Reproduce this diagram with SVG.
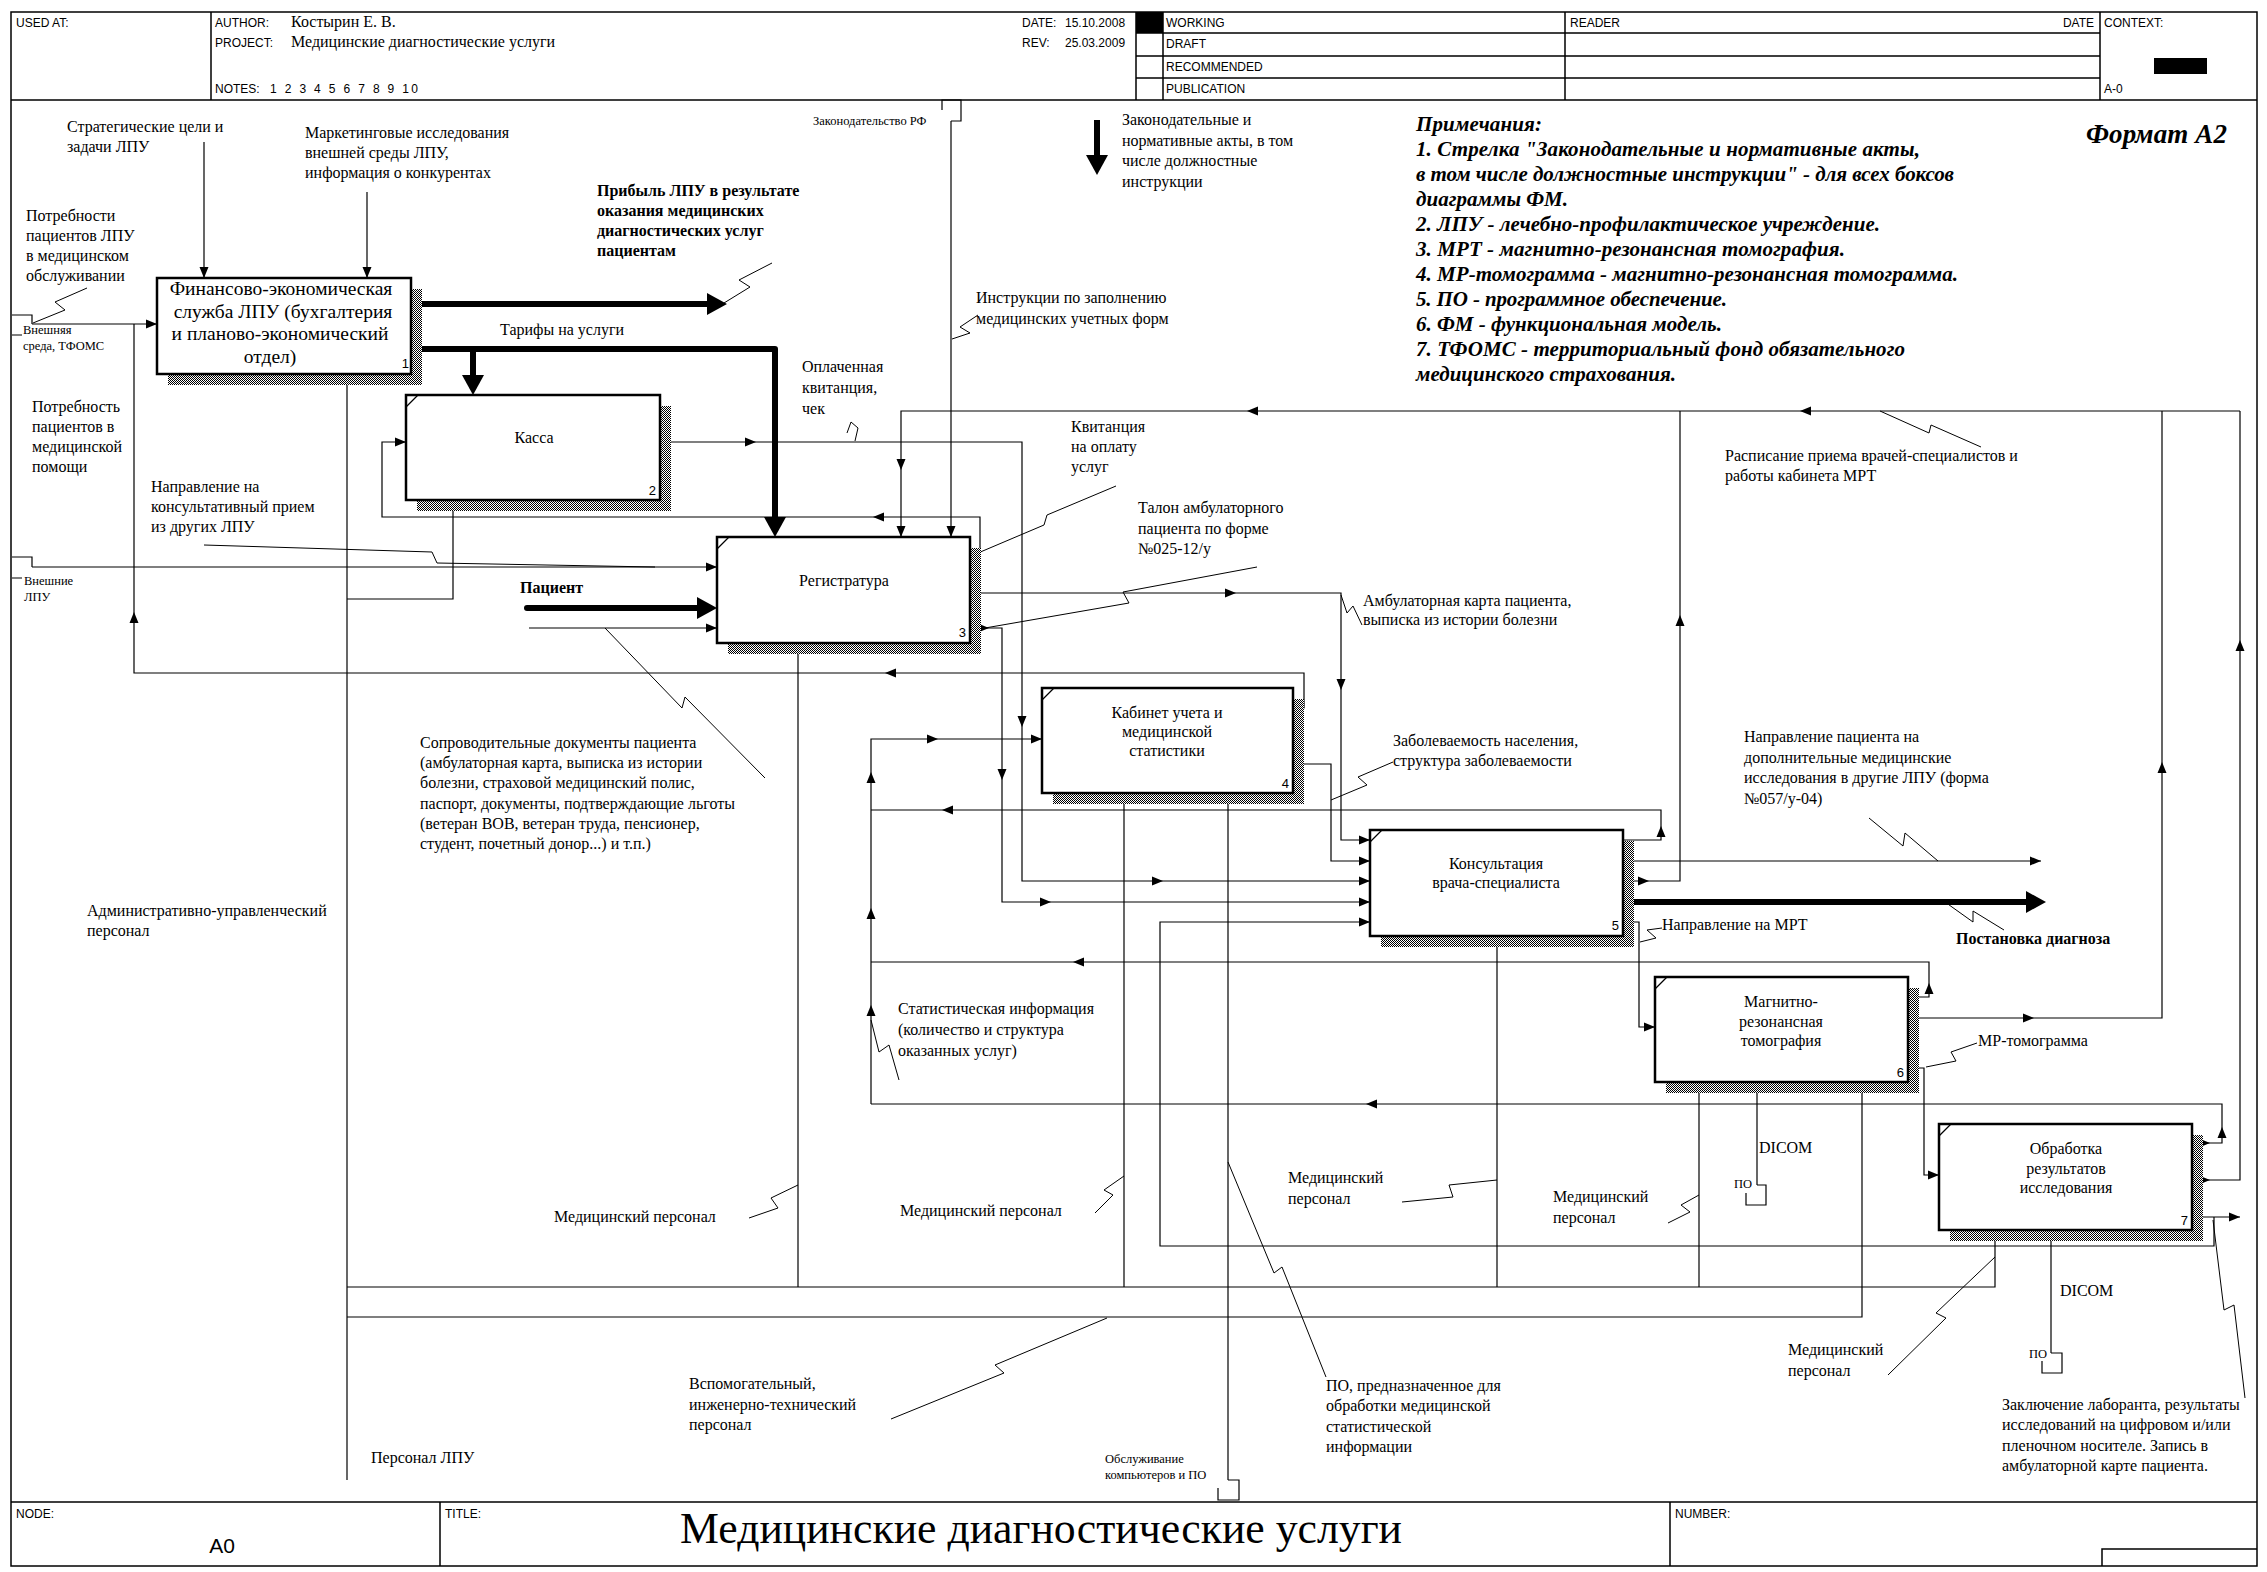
<svg xmlns="http://www.w3.org/2000/svg" width="2267" height="1572" viewBox="0 0 2267 1572">
<defs>
<style>
text{font-family:"Liberation Serif","Times New Roman",serif;font-size:16px;fill:#000}
.sm{font-size:12.5px}
.b{font-weight:bold}
.hd{font-family:"Liberation Sans",Arial,sans-serif;font-size:12px}
.hv{font-family:"Liberation Serif","Times New Roman",serif;font-size:16px}
.note{font-size:21px;font-weight:bold;font-style:italic}
.bt{text-anchor:middle}
.bx{fill:#fff;stroke:#000;stroke-width:2.5}
.sh{fill:url(#hatch);stroke:none}
.num{font-family:"Liberation Sans",Arial,sans-serif;font-size:13px;text-anchor:end}
.c{fill:none;stroke:#000;stroke-width:1.2;marker-end:url(#a)}
.n{fill:none;stroke:#000;stroke-width:1.2}
.m{fill:none;stroke:none;marker-end:url(#a)}
.th{fill:none;stroke:#000;stroke-width:6;marker-end:url(#t)}
.sq{fill:none;stroke:#000;stroke-width:1}
.fr{fill:none;stroke:#000;stroke-width:1.5}
</style>
<pattern id="hatch" width="2" height="2" patternUnits="userSpaceOnUse"><rect width="2" height="2" fill="#fff"/><rect width="1" height="1" fill="#000"/><rect x="1" y="1" width="1" height="1" fill="#000"/></pattern>
<marker id="a" markerUnits="userSpaceOnUse" markerWidth="11" markerHeight="9" viewBox="0 0 11 9" refX="11" refY="4.5" orient="auto" overflow="visible"><path d="M0,0 L11,4.5 L0,9 z" fill="#000"/></marker>
<marker id="t" markerUnits="userSpaceOnUse" markerWidth="20" markerHeight="22" viewBox="0 0 20 22" refX="0" refY="11" orient="auto" overflow="visible"><path d="M0,0 L20,11 L0,22 z" fill="#000"/></marker>
</defs>
<rect width="2267" height="1572" fill="#fff"/>

<g id="frame">
<rect class="fr" x="11" y="12" width="2246" height="1554"/>
<path class="fr" d="M11,100 H2257 M211,12 V100 M1136,12 V100 M1163,12 V100 M1565,12 V100 M2100,12 V100 M1136,33 H2100 M1136,56 H2100 M1136,78 H2100"/>
<rect x="1136" y="12" width="27" height="21" fill="#000"/>
<rect x="2154" y="58" width="53" height="16" fill="#000"/>
<path class="fr" d="M11,1502 H2257 M440,1502 V1566 M1670,1502 V1566 M2102,1566 V1549 H2257"/>
<text class="hd" x="16" y="27">USED AT:</text>
<text class="hd" x="215" y="27">AUTHOR:</text>
<text class="hv" x="291" y="27">Костырин Е. В.</text>
<text class="hd" x="215" y="47">PROJECT:</text>
<text class="hv" x="291" y="47">Медицинские диагностические услуги</text>
<text class="hd" x="215" y="93">NOTES:</text>
<text class="hd" x="270" y="93" textLength="148">1 2 3 4 5 6 7 8 9 10</text>
<text class="hd" x="1022" y="27">DATE:</text>
<text class="hd" x="1065" y="27">15.10.2008</text>
<text class="hd" x="1022" y="47">REV:</text>
<text class="hd" x="1065" y="47">25.03.2009</text>
<text class="hd" x="1166" y="27">WORKING</text>
<text class="hd" x="1166" y="48">DRAFT</text>
<text class="hd" x="1166" y="71">RECOMMENDED</text>
<text class="hd" x="1166" y="93">PUBLICATION</text>
<text class="hd" x="1570" y="27">READER</text>
<text class="hd" x="2094" y="27" text-anchor="end">DATE</text>
<text class="hd" x="2104" y="27">CONTEXT:</text>
<text class="hd" x="2104" y="93">A-0</text>
<text class="hd" x="16" y="1518">NODE:</text>
<text class="hd" x="222" y="1553" style="font-size:21px" text-anchor="middle">A0</text>
<text class="hd" x="445" y="1518">TITLE:</text>
<text x="680" y="1543" style="font-size:45px" textLength="722" lengthAdjust="spacingAndGlyphs">Медицинские диагностические услуги</text>
<text class="hd" x="1675" y="1518">NUMBER:</text>
</g>

<g id="notes">
<text class="note" x="1416" y="131" textLength="126">Примечания:</text>
<text class="note" x="1416" y="156" textLength="504">1. Стрелка "Законодательные и нормативные акты,</text>
<text class="note" x="1416" y="181" textLength="538">в том числе должностные инструкции" - для всех боксов</text>
<text class="note" x="1416" y="206" textLength="152">диаграммы ФМ.</text>
<text class="note" x="1416" y="231" textLength="464">2. ЛПУ - лечебно-профилактическое учреждение.</text>
<text class="note" x="1416" y="256" textLength="429">3. МРТ - магнитно-резонансная томография.</text>
<text class="note" x="1416" y="281" textLength="542">4. МР-томограмма - магнитно-резонансная томограмма.</text>
<text class="note" x="1416" y="306" textLength="311">5. ПО - программное обеспечение.</text>
<text class="note" x="1416" y="331" textLength="306">6. ФМ - функциональная модель.</text>
<text class="note" x="1416" y="356" textLength="489">7. ТФОМС - территориальный фонд обязательного</text>
<text class="note" x="1416" y="381" textLength="260">медицинского страхования.</text>
<text x="2086" y="143" style="font-size:27px;font-weight:bold;font-style:italic" textLength="141">Формат А2</text>
</g>

<g id="connectors">
<!-- tunnels -->
<path class="n" d="M12,315 H32 V324 M12,335 H22"/>
<path class="n" d="M12,557 H32 V567 M12,578 H22"/>
<path class="n" d="M942,110 V100 H961 V121 H951"/>
<path class="n" d="M1228,1480 H1239 V1500 H1218 V1488"/>
<path class="n" d="M1757,1185 H1766 V1205 H1746 V1193"/>
<path class="n" d="M2051,1353 H2062 V1373 H2042 V1361"/>
<!-- box1 inputs/controls -->
<path class="c" d="M204,142 V278"/>
<path class="c" d="M367,192 V278"/>
<path class="c" d="M32,324 H157"/>
<path class="n" d="M1293,708 H1304 V673 H134 V324"/>
<!-- box1 outputs -->
<path class="th" d="M411,304 H707"/>
<path class="th" stroke-linejoin="round" d="M411,349 H775 V517"/>
<path class="th" d="M473,349 V375"/>
<!-- box2 -->
<path class="c" d="M970,553 H980 V517 H382 V442 H406"/>
<path class="c" d="M660,442 H1022 V881 H1370"/>
<!-- box3 inputs -->
<path class="c" d="M32,567 H717"/>
<path class="th" stroke-linecap="round" d="M527,608 H697"/>
<path class="c" d="M529,628 H717"/>
<path class="c" d="M951,121 V537"/>
<path class="n" d="M1623,881 H1680 V411"/>
<path class="n" d="M1908,1018 H2162 V411"/>
<path class="n" d="M2192,1180 H2240 V411"/>
<path class="c" d="M2240,411 H901 V537"/>
<!-- box3 outputs -->
<path class="c" d="M970,593 H1341 V840 H1370"/>
<path class="c" d="M970,628 H1002 V902 H1370"/>
<!-- box4 input -->
<path class="c" d="M871,1104 V739 H1042"/>
<path class="n" d="M1623,840 H1661 V810 H871"/>
<path class="n" d="M1908,997 H1929 V962 H871"/>
<path class="n" d="M2192,1143 H2222 V1104 H871"/>
<!-- box4 output -->
<path class="c" d="M1293,764 H1331 V861 H1370"/>
<!-- box5 outputs -->
<path class="c" d="M1623,861 H2041"/>
<path class="th" d="M1623,902 H2026"/>
<path class="c" d="M1623,922 H1639 V1027 H1655"/>
<!-- box6 output -->
<path class="c" d="M1908,1068 H1924 V1175 H1939"/>
<!-- box7 outputs -->
<path class="c" d="M2192,1217 H2240"/>
<path class="c" d="M2214,1217 V1246 H1160 V922 H1370"/>
<!-- mechanisms -->
<path class="c" d="M347,1480 V374"/>
<path class="c" d="M347,599 H453 V500"/>
<path class="c" d="M347,1287 H1995 V1230"/>
<path class="c" d="M798,1287 V643"/>
<path class="c" d="M1124,1287 V793"/>
<path class="c" d="M1497,1287 V936"/>
<path class="c" d="M1699,1287 V1082"/>
<path class="c" d="M347,1317 H1862 V1082"/>
<path class="c" d="M1228,1480 V793"/>
<path class="c" d="M1757,1185 V1082"/>
<path class="c" d="M2051,1353 V1230"/>
<!-- legend -->
<path class="th" d="M1097,120 V155"/>
<!-- mid arrowheads: right -->
<path class="m" d="M745,442 H756"/>
<path class="m" d="M1152,881 H1163"/>
<path class="m" d="M1225,593 H1236"/>
<path class="m" d="M978,628 H989"/>
<path class="m" d="M1040,902 H1051"/>
<path class="m" d="M927,739 H938"/>
<path class="m" d="M1638,881 H1649"/>
<path class="m" d="M2023,1018 H2034"/>
<path class="m" d="M2199,1180 H2210"/>
<path class="m" d="M2199,1143 H2210"/>
<!-- left -->
<path class="m" d="M896,673 H885"/>
<path class="m" d="M884,517 H873"/>
<path class="m" d="M1258,411 H1247"/>
<path class="m" d="M1811,411 H1800"/>
<path class="m" d="M953,810 H942"/>
<path class="m" d="M1084,962 H1073"/>
<path class="m" d="M1377,1104 H1366"/>
<!-- up -->
<path class="m" d="M134,623 V612"/>
<path class="m" d="M1680,626 V615"/>
<path class="m" d="M2162,773 V762"/>
<path class="m" d="M2240,651 V640"/>
<path class="m" d="M871,1016 V1005"/>
<path class="m" d="M871,919 V908"/>
<path class="m" d="M871,783 V772"/>
<path class="m" d="M1661,837 V826"/>
<path class="m" d="M1929,994 V983"/>
<path class="m" d="M2222,1138 V1127"/>
<!-- down -->
<path class="m" d="M1022,716 V727"/>
<path class="m" d="M1341,679 V690"/>
<path class="m" d="M1002,769 V780"/>
<path class="m" d="M901,459 V470"/>
<!-- squiggles -->
<path class="sq" d="M87,288 L55,302 L65,310 L33,323"/>
<path class="sq" d="M772,263 L739,280 L750,287 L724,303"/>
<path class="sq" d="M847,433 L851,422 L858,428 L855,441"/>
<path class="sq" d="M952,339 L970,333 L960,327 L978,315"/>
<path class="sq" d="M1116,486 L1047,515 L1044,525 L978,553"/>
<path class="sq" d="M204,545 L432,552 L437,563 L655,567"/>
<path class="sq" d="M765,778 L685,697 L682,708 L605,628"/>
<path class="sq" d="M1257,567 L1123,592 L1129,603 L985,628"/>
<path class="sq" d="M1341,595 L1347,613 L1353,606 L1362,625"/>
<path class="sq" d="M1331,800 L1367,785 L1358,777 L1393,762"/>
<path class="sq" d="M1869,818 L1903,846 L1905,833 L1938,861"/>
<path class="sq" d="M1945,902 L1973,922 L1973,911 L2004,930"/>
<path class="sq" d="M1640,942 L1656,938 L1647,930 L1662,928"/>
<path class="sq" d="M1926,1067 L1956,1061 L1951,1052 L1977,1043"/>
<path class="sq" d="M899,1080 L889,1045 L879,1052 L871,1020"/>
<path class="sq" d="M1981,447 L1931,425 L1929,433 L1880,411"/>
<path class="sq" d="M749,1218 L778,1208 L771,1198 L798,1185"/>
<path class="sq" d="M1095,1213 L1113,1195 L1104,1190 L1124,1176"/>
<path class="sq" d="M1402,1202 L1453,1197 L1449,1185 L1497,1180"/>
<path class="sq" d="M1668,1223 L1690,1212 L1681,1205 L1699,1195"/>
<path class="sq" d="M1888,1375 L1946,1318 L1936,1313 L1995,1257"/>
<path class="sq" d="M891,1419 L1004,1373 L995,1365 L1107,1318"/>
<path class="sq" d="M1326,1377 L1282,1267 L1274,1273 L1228,1162"/>
<path class="sq" d="M2245,1398 L2234,1305 L2224,1310 L2213,1220"/>
</g>

<g id="labels">
<text x="67" y="132">Стратегические цели и<tspan x="67" dy="20">задачи ЛПУ</tspan></text>
<text x="305" y="138">Маркетинговые исследования<tspan x="305" dy="20">внешней среды ЛПУ,</tspan><tspan x="305" dy="20">информация о конкурентах</tspan></text>
<text x="26" y="221">Потребности<tspan x="26" dy="20">пациентов ЛПУ</tspan><tspan x="26" dy="20">в медицинском</tspan><tspan x="26" dy="20">обслуживании</tspan></text>
<text class="sm" x="23" y="334">Внешняя<tspan x="23" dy="16">среда, ТФОМС</tspan></text>
<text x="32" y="412">Потребность<tspan x="32" dy="20">пациентов в</tspan><tspan x="32" dy="20">медицинской</tspan><tspan x="32" dy="20">помощи</tspan></text>
<text x="151" y="492">Направление на<tspan x="151" dy="20">консультативный прием</tspan><tspan x="151" dy="20">из других ЛПУ</tspan></text>
<text class="sm" x="24" y="585">Внешние<tspan x="24" dy="16">ЛПУ</tspan></text>
<text x="500" y="335">Тарифы на услуги</text>
<text class="b" x="597" y="196">Прибыль ЛПУ в результате<tspan x="597" dy="20">оказания медицинских</tspan><tspan x="597" dy="20">диагностических услуг</tspan><tspan x="597" dy="20">пациентам</tspan></text>
<text class="sm" x="813" y="125">Законодательство РФ</text>
<text x="1122" y="125">Законодательные и<tspan x="1122" dy="20.5">нормативные акты, в том</tspan><tspan x="1122" dy="20.5">числе должностные</tspan><tspan x="1122" dy="20.5">инструкции</tspan></text>
<text x="976" y="303">Инструкции по заполнению<tspan x="976" dy="21">медицинских учетных форм</tspan></text>
<text x="802" y="372">Оплаченная<tspan x="802" dy="21">квитанция,</tspan><tspan x="802" dy="21">чек</tspan></text>
<text x="1071" y="432">Квитанция<tspan x="1071" dy="20">на оплату</tspan><tspan x="1071" dy="20">услуг</tspan></text>
<text x="1138" y="513">Талон амбулаторного<tspan x="1138" dy="21">пациента по форме</tspan><tspan x="1138" dy="20">№025-12/у</tspan></text>
<text class="b" x="520" y="593">Пациент</text>
<text x="420" y="748">Сопроводительные документы пациента<tspan x="420" dy="20.2">(амбулаторная карта, выписка из истории</tspan><tspan x="420" dy="20.2">болезни, страховой медицинский полис,</tspan><tspan x="420" dy="20.2">паспорт, документы, подтверждающие льготы</tspan><tspan x="420" dy="20.2">(ветеран ВОВ, ветеран труда, пенсионер,</tspan><tspan x="420" dy="20.2">студент, почетный донор...) и т.п.)</tspan></text>
<text x="1363" y="606">Амбулаторная карта пациента,<tspan x="1363" dy="19">выписка из истории болезни</tspan></text>
<text x="1393" y="746">Заболеваемость населения,<tspan x="1393" dy="20">структура заболеваемости</tspan></text>
<text x="1725" y="461">Расписание приема врачей-специалистов и<tspan x="1725" dy="20">работы кабинета МРТ</tspan></text>
<text x="1744" y="742">Направление пациента на<tspan x="1744" dy="20.7">дополнительные медицинские</tspan><tspan x="1744" dy="20.7">исследования в другие ЛПУ (форма</tspan><tspan x="1744" dy="20.7">№057/у-04)</tspan></text>
<text x="1662" y="930">Направление на МРТ</text>
<text class="b" x="1956" y="944">Постановка диагноза</text>
<text x="1978" y="1046">МР-томограмма</text>
<text x="898" y="1014">Статистическая информация<tspan x="898" dy="21">(количество и структура</tspan><tspan x="898" dy="21">оказанных услуг)</tspan></text>
<text x="87" y="916">Административно-управленческий<tspan x="87" dy="20">персонал</tspan></text>
<text x="554" y="1222">Медицинский персонал</text>
<text x="900" y="1216">Медицинский персонал</text>
<text x="1288" y="1183">Медицинский<tspan x="1288" dy="21">персонал</tspan></text>
<text x="1553" y="1202">Медицинский<tspan x="1553" dy="21">персонал</tspan></text>
<text x="1788" y="1355">Медицинский<tspan x="1788" dy="21">персонал</tspan></text>
<text x="689" y="1389">Вспомогательный,<tspan x="689" dy="20.5">инженерно-технический</tspan><tspan x="689" dy="20.5">персонал</tspan></text>
<text x="371" y="1463">Персонал ЛПУ</text>
<text class="sm" x="1105" y="1463">Обслуживание<tspan x="1105" dy="16">компьютеров и ПО</tspan></text>
<text x="1326" y="1391">ПО, предназначенное для<tspan x="1326" dy="20.3">обработки медицинской</tspan><tspan x="1326" dy="20.3">статистической</tspan><tspan x="1326" dy="20.3">информации</tspan></text>
<text x="1759" y="1153">DICOM</text>
<text x="2060" y="1296">DICOM</text>
<text class="sm" x="1734" y="1188">ПО</text>
<text class="sm" x="2029" y="1358">ПО</text>
<text x="2002" y="1410">Заключение лаборанта, результаты<tspan x="2002" dy="20.3">исследований на цифровом и/или</tspan><tspan x="2002" dy="20.3">пленочном носителе. Запись в</tspan><tspan x="2002" dy="20.3">амбулаторной карте пациента.</tspan></text>
</g>

<g id="box1">
<rect class="sh" x="168" y="289" width="254" height="96"/>
<rect class="bx" x="157" y="278" width="254" height="96"/>
<text class="bt" x="281" y="295" style="font-size:19.5px">Финансово-экономическая<tspan x="283" dy="22.5">служба ЛПУ (бухгалтерия</tspan><tspan x="280" dy="22.5">и планово-экономический</tspan><tspan x="270" dy="22.5">отдел)</tspan></text>
<text class="num" x="409" y="368">1</text>
</g>
<g id="box2">
<rect class="sh" x="417" y="406" width="254" height="105"/>
<rect class="bx" x="406" y="395" width="254" height="105"/>
<path class="n" d="M406,407 L418,395"/>
<text class="bt" x="534" y="443">Касса</text>
<text class="num" x="656" y="495">2</text>
</g>
<g id="box3">
<rect class="sh" x="728" y="548" width="253" height="106"/>
<rect class="bx" x="717" y="537" width="253" height="106"/>
<path class="n" d="M717,549 L729,537"/>
<text class="bt" x="844" y="586">Регистратура</text>
<text class="num" x="966" y="637">3</text>
</g>
<g id="box4">
<rect class="sh" x="1053" y="699" width="251" height="105"/>
<rect class="bx" x="1042" y="688" width="251" height="105"/>
<path class="n" d="M1042,700 L1054,688"/>
<text class="bt" x="1167" y="718">Кабинет учета и<tspan x="1167" dy="19">медицинской</tspan><tspan x="1167" dy="19">статистики</tspan></text>
<text class="num" x="1289" y="788">4</text>
</g>
<g id="box5">
<rect class="sh" x="1381" y="841" width="253" height="106"/>
<rect class="bx" x="1370" y="830" width="253" height="106"/>
<path class="n" d="M1370,842 L1382,830"/>
<text class="bt" x="1496" y="869">Консультация<tspan x="1496" dy="19">врача-специалиста</tspan></text>
<text class="num" x="1619" y="930">5</text>
</g>
<g id="box6">
<rect class="sh" x="1666" y="988" width="253" height="105"/>
<rect class="bx" x="1655" y="977" width="253" height="105"/>
<path class="n" d="M1655,989 L1667,977"/>
<text class="bt" x="1781" y="1007">Магнитно-<tspan x="1781" dy="19.5">резонансная</tspan><tspan x="1781" dy="19.5">томография</tspan></text>
<text class="num" x="1904" y="1077">6</text>
</g>
<g id="box7">
<rect class="sh" x="1950" y="1135" width="253" height="106"/>
<rect class="bx" x="1939" y="1124" width="253" height="106"/>
<path class="n" d="M1939,1136 L1951,1124"/>
<text class="bt" x="2066" y="1154">Обработка<tspan x="2066" dy="19.5">результатов</tspan><tspan x="2066" dy="19.5">исследования</tspan></text>
<text class="num" x="2188" y="1225">7</text>
</g>
</svg>
